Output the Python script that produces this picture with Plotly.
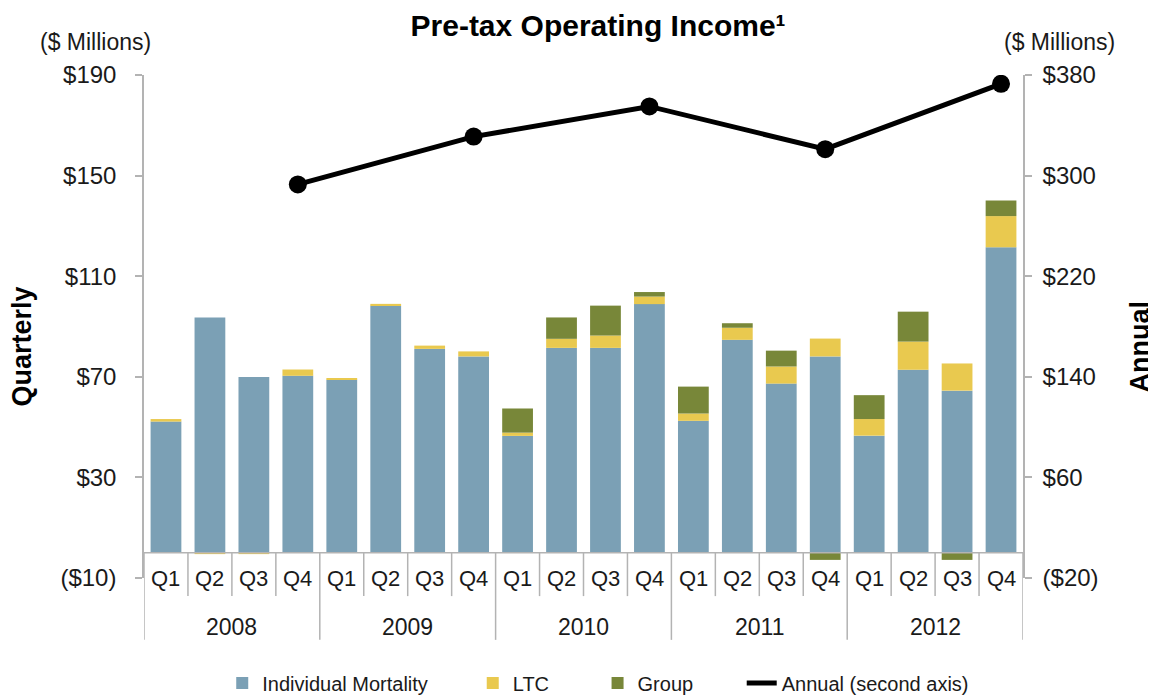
import plotly.graph_objects as go

# quarters / years along the category axis
years = ["2008", "2009", "2010", "2011", "2012"]
quarters = ["Q1", "Q2", "Q3", "Q4"]

# quarterly pre-tax operating income ($ millions)
individual_mortality = [52.2, 93.6, 69.9, 70.4,
                        68.8, 98.3, 81.1, 78.1,
                        46.5, 81.5, 81.5, 98.9,
                        52.5, 84.7, 67.3, 78.1,
                        46.6, 72.8, 64.5, 121.5]
ltc = [1.0, -0.5, -0.5, 2.5,
       0.5, 0.7, 1.3, 2.0,
       1.3, 3.6, 4.9, 3.0,
       2.9, 4.8, 6.8, 7.1,
       6.6, 11.2, 10.8, 12.4]
group = [0, 0, 0, 0,
         0, 0, 0, 0,
         9.6, 8.5, 11.9, 1.8,
         10.7, 1.8, 6.3, -2.8,
         9.5, 11.9, -2.8, 6.2]

# annual totals (second axis)
annual = [293, 331, 355, 321, 373]

left_ticks = [-10, 30, 70, 110, 150, 190]
right_ticks = [-20, 60, 140, 220, 300, 380]


def money(v):
    return "(${})".format(-v) if v < 0 else "${}".format(v)


FONT = "Liberation Sans, Arial, sans-serif"
TXT = "#1a1a1a"
BLUE = "#7ba0b5"
YELLOW = "#e9c94f"
GREEN = "#788739"
AXIS = "#b3b3b3"

n = len(years) * len(quarters)
xs = list(range(n))
q4_x = [i * len(quarters) + 3 for i in range(len(years))]

fig = go.Figure()
fig.add_trace(go.Bar(x=xs, y=individual_mortality, name="Individual Mortality",
                     marker=dict(color=BLUE, line=dict(width=0)), legend="legend"))
fig.add_trace(go.Bar(x=xs, y=ltc, name="LTC",
                     marker=dict(color=YELLOW, line=dict(width=0)), legend="legend2"))
fig.add_trace(go.Bar(x=xs, y=group, name="Group",
                     marker=dict(color=GREEN, line=dict(width=0)), legend="legend3"))
# line in the legend, dots drawn by a second trace so the legend shows a plain line
fig.add_trace(go.Scatter(x=q4_x, y=annual, name="Annual (second axis)", yaxis="y2",
                         mode="lines", line=dict(color="black", width=5),
                         legend="legend4"))
fig.add_trace(go.Scatter(x=q4_x, y=annual, yaxis="y2", mode="markers",
                         marker=dict(color="black", size=18), showlegend=False))

shapes = []
# category axis at zero
shapes.append(dict(type="line", xref="x", yref="y", x0=-0.5, x1=n - 0.5, y0=0, y1=0,
                   line=dict(color=AXIS, width=1.5)))
# separators below the axis
for i in range(n + 1):
    is_year = i % len(quarters) == 0
    shapes.append(dict(type="line", xref="x", yref="paper", x0=i - 0.5, x1=i - 0.5,
                       y0=0.0497, y1=-0.123 if is_year else -0.036,
                       line=dict(color=AXIS, width=1.5)))

annotations = []
for i in range(n):
    annotations.append(dict(x=i, y=0.0, xref="x", yref="paper", text=quarters[i % 4],
                            showarrow=False, yanchor="middle",
                            font=dict(size=22, color=TXT, family=FONT)))
for j, yr in enumerate(years):
    annotations.append(dict(x=j * 4 + 1.5, y=-0.097, xref="x", yref="paper", text=yr,
                            showarrow=False, yanchor="middle",
                            font=dict(size=23, color=TXT, family=FONT)))

annotations += [
    dict(x=-0.055, y=1.066, xref="paper", yref="paper", text="($ Millions)", showarrow=False,
         xanchor="center", yanchor="middle", font=dict(size=23, color=TXT, family=FONT)),
    dict(x=1.041, y=1.066, xref="paper", yref="paper", text="($ Millions)", showarrow=False,
         xanchor="center", yanchor="middle", font=dict(size=23, color=TXT, family=FONT)),
    dict(x=-0.139, y=0.46, xref="paper", yref="paper", text="<b>Quarterly</b>", showarrow=False,
         textangle=-90, xanchor="center", yanchor="middle",
         font=dict(size=27, color="black", family=FONT)),
    dict(x=1.133, y=0.46, xref="paper", yref="paper", text="<b>Annual</b>", showarrow=False,
         textangle=-90, xanchor="center", yanchor="middle",
         font=dict(size=27, color="black", family=FONT)),
]


def leg(x):
    return dict(orientation="h", x=x, xanchor="left", yref="container", y=0.019,
                yanchor="middle", bgcolor="rgba(0,0,0,0)",
                font=dict(size=20, color=TXT, family=FONT))


# page body has an 8px margin, so the figure is 8px smaller than the window
fig.update_layout(
    width=1148, height=688,
    margin=dict(l=136, r=133, t=67, b=118),
    plot_bgcolor="white", paper_bgcolor="white",
    barmode="relative", bargap=0.3,
    showlegend=True,
    title=dict(text="<b>Pre-tax Operating Income¹</b>", x=0.514, xanchor="center",
               y=0.975, yanchor="middle", font=dict(size=30, color="black", family=FONT)),
    font=dict(family=FONT, color=TXT),
    xaxis=dict(range=[-0.5, n - 0.5], visible=False),
    yaxis=dict(range=[-10, 190], tickvals=left_ticks,
               ticktext=[money(v) for v in left_ticks],
               showgrid=False, zeroline=False, showline=True, linecolor=AXIS, linewidth=1.5,
               ticks="outside", ticklen=7, tickcolor=AXIS, tickwidth=1.5,
               ticklabelstandoff=14,
               tickfont=dict(size=24, color=TXT, family=FONT)),
    yaxis2=dict(range=[-20, 380], tickvals=right_ticks,
                ticktext=[money(v) for v in right_ticks],
                overlaying="y", side="right",
                showgrid=False, zeroline=False, showline=True, linecolor=AXIS, linewidth=1.5,
                ticks="outside", ticklen=7, tickcolor=AXIS, tickwidth=1.5,
                ticklabelstandoff=6,
                tickfont=dict(size=24, color=TXT, family=FONT)),
    legend=leg(0.089),
    legend2=leg(0.374),
    legend3=leg(0.516),
    legend4=leg(0.680),
    shapes=shapes,
    annotations=annotations,
)

fig.write_html("out.html")
